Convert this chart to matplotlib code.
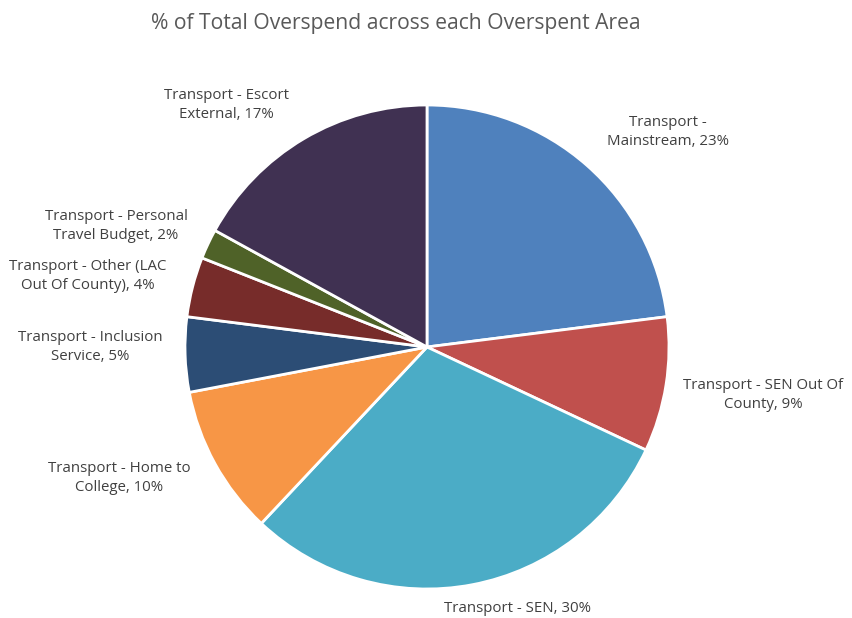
import matplotlib
matplotlib.use('Agg')
import matplotlib.pyplot as plt

plt.rcParams['font.family'] = ['Open Sans', 'DejaVu Sans']

areas = ['Transport -\nMainstream', 'Transport - SEN Out Of\nCounty', 'Transport - SEN',
         'Transport - Home to\nCollege', 'Transport - Inclusion\nService',
         'Transport - Other (LAC\nOut Of County)', 'Transport - Personal\nTravel Budget',
         'Transport - Escort\nExternal']
shares = [23, 9, 30, 10, 5, 4, 2, 17]
colors = ['#4F81BD', '#C0504D', '#4BACC6', '#F79646', '#2C4D75', '#772C2A', '#4F6228', '#403152']

# label centres in pixel coords (x, y from top)
label_pos = [(668, 132), (763, 395), (518, 608), (119, 478),
             (90, 347), (88, 276), (116, 226), (226, 105)]

W, H = 852, 618
fig = plt.figure(figsize=(W / 100, H / 100), dpi=100)
ax = fig.add_axes([0, 0, 1, 1])

ax.pie(shares, colors=colors, startangle=90, counterclock=False,
       center=(427, H - 347), radius=242, frame=True,
       wedgeprops=dict(edgecolor='white', linewidth=2))
ax.set_xlim(0, W); ax.set_ylim(0, H)
ax.set_aspect('equal'); ax.axis('off')

for name, v, (x, y) in zip(areas, shares, label_pos):
    ax.text(x, H - y, f'{name}, {v}%', ha='center', va='center',
            fontsize=10.8, color='#404040', linespacing=1.3)

ax.text(396, H - 24, '% of Total Overspend across each Overspent Area',
        ha='center', va='center', fontsize=15.2, color='#595959')

fig.savefig('out.png', dpi=100)
